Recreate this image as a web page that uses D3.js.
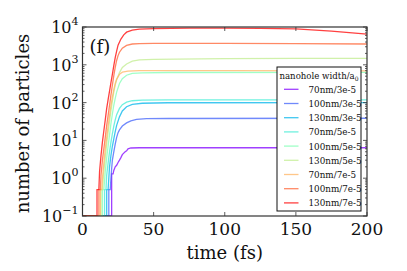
<!DOCTYPE html>
<html>
<head>
<meta charset="utf-8">
<script src="https://cdn.jsdelivr.net/npm/d3@7"></script>
<style>
  body { margin: 0; background: #fff; }
</style>
</head>
<body>
<div id="chart"></div>
<script>
// series labels, legend order
const labels = ["70nm/3e-5", "100nm/3e-5", "130nm/3e-5",
                "70nm/5e-5", "100nm/5e-5", "130nm/5e-5",
                "70nm/7e-5", "100nm/7e-5", "130nm/7e-5"];
const colors = ["#8000ff", "#4062fa", "#00b4eb", "#40ecd4", "#80ffb4",
                "#c0ec8e", "#ffb462", "#ff6232", "#ff0000"];

// [time fs, number of particles]
const s70_3 = [[0,0],[20.5,0],[20.5,1.3],[21.5,1.3],[22,1.6],[23,2],[24,2.2],[25,2.6],[26,3],[27,3.5],[28,4.2],[29,4.6],[30,5],[31,5.3],[32,6],[34,6.3],[40,6.4],[200,6.4]];
const s100_3 = [[0,0],[18.5,0],[18.5,0.5],[19.5,0.5],[20,1],[20.5,1.8],[21,3],[22,5],[23,8],[24,12],[25,16],[26,19],[28,24],[31,29],[34,33],[38,36],[45,37.5],[60,38],[200,38.5]];
const s130_3 = [[0,0],[17,0],[17,0.5],[18,0.5],[18.5,1],[19,2],[20,4],[21,7],[22,11],[23,17],[24,25],[26,42],[28,60],[31,78],[35,90],[42,96],[60,99],[200,100]];
const s70_5 = [[0,0],[15.5,0],[15.5,0.5],[16.5,0.5],[17,1.2],[18,2.5],[19,5],[20,9],[21,15],[22,24],[23,35],[24,48],[26,70],[28,88],[31,103],[35,112],[42,116],[60,118],[200,118]];
const s100_5 = [[0,0],[14,0],[14,0.5],[15,0.5],[16,1.5],[17,3.5],[18,7],[19,14],[20,28],[21,50],[22,85],[23,130],[24,190],[26,320],[28,430],[31,530],[35,590],[42,615],[60,625],[200,630]];
const s130_5 = [[0,0],[13,0],[13,0.5],[14,0.5],[15,1.5],[16,3.5],[17,8],[18,16],[19,32],[20,60],[21,110],[22,190],[23,290],[24,400],[26,620],[28,850],[31,1050],[35,1250],[40,1350],[50,1400],[100,1450],[150,1470],[200,1480]];
const s70_7 = [[0,0],[12.5,0],[12.5,0.5],[13.5,0.5],[14,1],[15,2.5],[16,6],[17,12],[18,24],[19,45],[20,85],[21,140],[22,220],[23,320],[24,420],[26,560],[28,640],[32,680],[40,700],[100,700],[200,690]];
const s100_7 = [[0,0],[11.5,0],[11.5,0.5],[12.5,0.5],[13,1.2],[14,3],[15,6],[16,12],[17,25],[18,45],[19,85],[20,160],[21,290],[22,520],[23,850],[24,1300],[25,1750],[26,2150],[28,2750],[31,3250],[35,3550],[40,3650],[50,3700],[100,3700],[150,3650],[200,3550]];
const s130_7 = [[0,0],[10.2,0],[10.2,0.5],[11.5,0.5],[12,1.5],[13,4],[14,9],[15,18],[16,35],[17,70],[18,120],[19,200],[20,340],[21,560],[22,950],[23,1550],[24,2300],[25,3300],[27,4800],[29,6200],[31,7300],[35,8300],[40,8800],[50,9100],[75,9300],[100,9300],[125,9200],[150,8900],[175,7800],[200,6500]];
const series = [s70_3, s100_3, s130_3, s70_5, s100_5, s130_5, s70_7, s100_7, s130_7];

const xTicks = [0, 50, 100, 150, 200];
const yExps = [-1, 0, 1, 2, 3, 4];

const W = 407, H = 271;
const margin = { top: 27, right: 40, bottom: 55, left: 82.5 };
const width = W - margin.left - margin.right;
const height = H - margin.top - margin.bottom;

const root = d3.select("#chart").append("svg")
    .attr("width", W)
    .attr("height", H)
    .attr("font-family", "'DejaVu Serif', serif");
const svg = root.append("g")
    .attr("transform", `translate(${margin.left}, ${margin.top})`);

const x = d3.scaleLinear().domain([0, 200]).range([0, width]);
const y = d3.scaleLog().domain([0.1, 10000]).range([height, 0]).clamp(true);

svg.append("clipPath").attr("id", "clip")
    .append("rect").attr("width", width).attr("height", height);

const line = d3.line()
    .x(d => x(d[0]))
    .y(d => y(Math.max(d[1], 0.01)));

svg.append("g").attr("clip-path", "url(#clip)")
    .selectAll("path")
    .data(series)
    .enter()
    .append("path")
    .attr("d", line)
    .attr("fill", "none")
    .attr("stroke", (d, i) => colors[i])
    .attr("stroke-opacity", 0.75)
    .attr("stroke-width", 1.3);

// frame
svg.append("rect")
    .attr("width", width).attr("height", height)
    .attr("fill", "none").attr("stroke", "#333").attr("stroke-width", 1.2);

// ticks (inward, all sides)
const minor = [];
for (let e = -1; e < 4; e++) for (let k = 2; k < 10; k++) minor.push(k * Math.pow(10, e));

const tickG = svg.append("g").attr("stroke", "#333").attr("stroke-width", 0.8);
xTicks.forEach(t => {
    tickG.append("line").attr("x1", x(t)).attr("x2", x(t)).attr("y1", height).attr("y2", height - 4);
    tickG.append("line").attr("x1", x(t)).attr("x2", x(t)).attr("y1", 0).attr("y2", 4);
});
yExps.forEach(e => {
    const v = Math.pow(10, e);
    tickG.append("line").attr("x1", 0).attr("x2", 4).attr("y1", y(v)).attr("y2", y(v));
    tickG.append("line").attr("x1", width).attr("x2", width - 4).attr("y1", y(v)).attr("y2", y(v));
});
minor.forEach(v => {
    tickG.append("line").attr("x1", 0).attr("x2", 2).attr("y1", y(v)).attr("y2", y(v));
    tickG.append("line").attr("x1", width).attr("x2", width - 2).attr("y1", y(v)).attr("y2", y(v));
});

// tick labels
svg.append("g").selectAll("text")
    .data(xTicks)
    .enter()
    .append("text")
    .attr("x", d => x(d))
    .attr("y", height + 19)
    .attr("text-anchor", "middle")
    .attr("fill", "#111")
    .style("font-size", "17px")
    .text(d => d);

const yl = svg.append("g").selectAll("text")
    .data(yExps)
    .enter()
    .append("text")
    .attr("x", -4)
    .attr("y", d => y(Math.pow(10, d)) + 6)
    .attr("text-anchor", "end")
    .attr("fill", "#111")
    .style("font-size", "16px");
yl.append("tspan").text("10");
yl.append("tspan")
    .attr("dy", -8)
    .style("font-size", "11px")
    .text(d => d < 0 ? "\u2212" + Math.abs(d) : d);

// axis labels
svg.append("text")
    .attr("x", width / 2)
    .attr("y", height + 43)
    .attr("text-anchor", "middle")
    .attr("fill", "#111")
    .style("font-size", "18px")
    .text("time (fs)");

svg.append("text")
    .attr("transform", `translate(${-54}, ${height / 2 + 2}) rotate(-90)`)
    .attr("text-anchor", "middle")
    .attr("fill", "#111")
    .style("font-size", "18px")
    .text("number of particles");

svg.append("text")
    .attr("x", 7)
    .attr("y", 26)
    .attr("fill", "#111")
    .style("font-size", "18px")
    .text("(f)");

// legend
const lg = svg.append("g").attr("transform", `translate(${277 - margin.left}, ${67 - margin.top})`);
lg.append("rect")
    .attr("width", 84).attr("height", 144)
    .attr("fill", "#fff").attr("stroke", "#111").attr("stroke-width", 1);
const title = lg.append("text")
    .attr("x", 42).attr("y", 11.5)
    .attr("text-anchor", "middle")
    .attr("fill", "#111")
    .style("font-size", "8.6px");
title.append("tspan").text("nanohole width/a");
title.append("tspan").attr("dy", 2.5).style("font-size", "6px").text("0");

const items = lg.selectAll(".item")
    .data(labels)
    .enter()
    .append("g")
    .attr("class", "item")
    .attr("transform", (d, i) => `translate(0, ${22.3 + i * 14.2})`);
items.append("line")
    .attr("x1", 7).attr("x2", 21.5)
    .attr("stroke", (d, i) => colors[i])
    .attr("stroke-opacity", 0.75)
    .attr("stroke-width", 1.3);
items.append("text")
    .attr("x", 31.5).attr("y", 3.5)
    .attr("fill", "#111")
    .style("font-size", "8.8px")
    .text(d => d);
</script>
</body>
</html>
